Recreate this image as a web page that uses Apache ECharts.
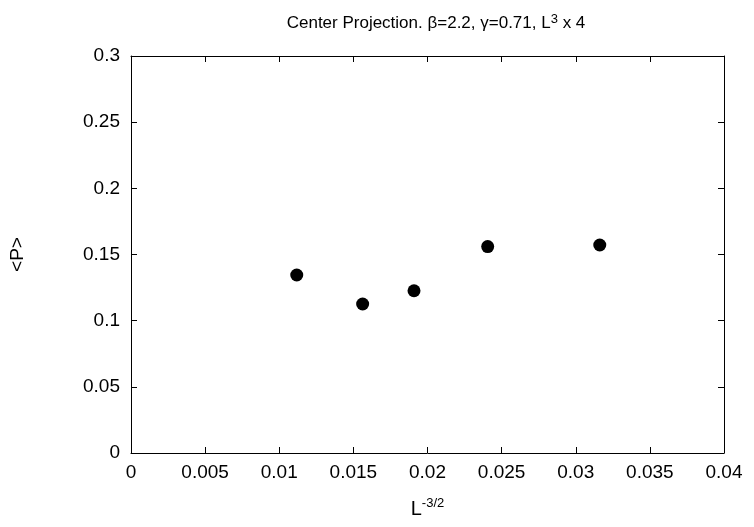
<!DOCTYPE html>
<html><head><meta charset="utf-8">
<script src="https://cdn.jsdelivr.net/npm/echarts@6/dist/echarts.min.js"></script>
<style>html,body{margin:0;padding:0;background:#fff}#c{width:754px;height:527px}</style>
</head><body><div id="c"></div>
<script>
const xValues = [0.01118, 0.015625, 0.01909, 0.02406, 0.03162];
const yValues = [0.1345, 0.1126, 0.1226, 0.1560, 0.1572];
const xTicks = [0, 0.005, 0.01, 0.015, 0.02, 0.025, 0.03, 0.035, 0.04];
const yTicks = [0, 0.05, 0.1, 0.15, 0.2, 0.25, 0.3];

const points = xValues.map((x, i) => [x, yValues[i]]);
const FONT = '"Liberation Sans", Arial, sans-serif';
const chart = echarts.init(document.getElementById('c'));
const axisCommon = {
  axisLine: {show: true, onZero: false, lineStyle: {color: '#000', width: 1}},
  axisTick: {show: true, inside: true, length: 6, lineStyle: {color: '#000'}},
  splitLine: {show: false}
};
chart.setOption({
  animation: false,
  backgroundColor: '#fff',
  title: {
    text: 'Center Projection. β=2.2, γ=0.71, L{sup|3} x 4',
    left: 431, top: 8, textAlign: 'center',
    textStyle: {
      fontFamily: FONT, fontSize: 17, fontWeight: 'normal', color: '#000',
      rich: {sup: {fontFamily: FONT, fontSize: 13, color: '#000', verticalAlign: 'top', padding: [0,0,8,0]}}
    }
  },
  grid: {left: 131, right: 30, top: 56, bottom: 74, containLabel: false, outerBoundsMode: 'none'},
  xAxis: [
    Object.assign({
      type: 'value', min: 0, max: 0.04, interval: 0.005, position: 'bottom',
      name: 'L{sup|-3/2}', nameLocation: 'middle', nameGap: 44,
      nameTextStyle: {fontFamily: FONT, fontSize: 20, color: '#000',
        rich: {sup: {fontFamily: FONT, fontSize: 13, color: '#000', verticalAlign: 'top', padding: [0,0,12,0]}}},
      axisLabel: {fontFamily: FONT, fontSize: 19, color: '#000', margin: 10,
        formatter: v => { const t = xTicks.find(tt => Math.abs(tt - v) < 1e-9); return t === undefined ? '' : String(t); }}
    }, axisCommon),
    Object.assign({
      type: 'value', min: 0, max: 0.04, interval: 0.005, position: 'top',
      axisLabel: {show: false}
    }, axisCommon)
  ],
  yAxis: [
    Object.assign({
      type: 'value', min: 0, max: 0.3, interval: 0.05, position: 'left',
      name: '<P>', nameLocation: 'middle', nameGap: 104, nameRotate: 90,
      nameTextStyle: {fontFamily: FONT, fontSize: 19, color: '#000'},
      axisLabel: {fontFamily: FONT, fontSize: 19, color: '#000', margin: 11,
        formatter: v => { const t = yTicks.find(tt => Math.abs(tt - v) < 1e-9); return t === undefined ? '' : String(t); }}
    }, axisCommon),
    Object.assign({
      type: 'value', min: 0, max: 0.3, interval: 0.05, position: 'right',
      axisLabel: {show: false}
    }, axisCommon)
  ],
  series: [{
    type: 'scatter', xAxisIndex: 0, yAxisIndex: 0,
    data: points, symbol: 'circle', symbolSize: 13,
    itemStyle: {color: '#000', opacity: 1}
  }]
});
</script></body></html>
